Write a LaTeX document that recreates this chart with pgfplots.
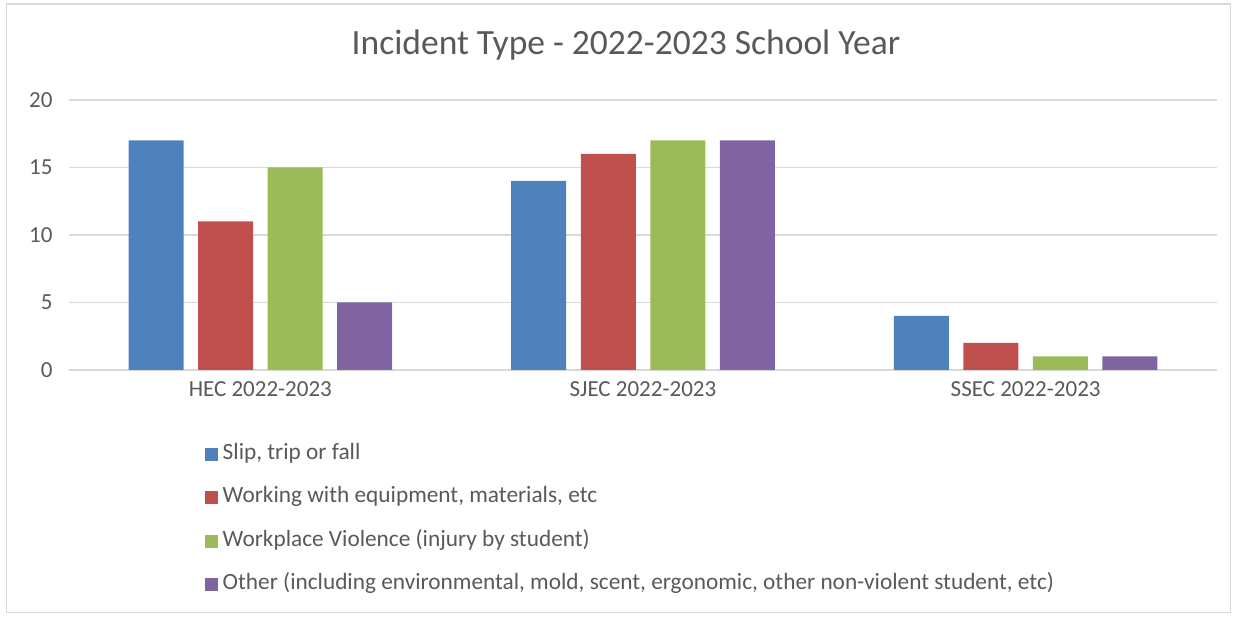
\documentclass[border=0pt]{standalone}
\usepackage{pgfplots}
\pgfplotsset{compat=1.18}
\usepackage{fontspec}
\setmainfont{Carlito}
\definecolor{sblue}{HTML}{4F81BD}
\definecolor{sred}{HTML}{C0504D}
\definecolor{sgreen}{HTML}{9BBB59}
\definecolor{spurple}{HTML}{8064A2}
\definecolor{txt}{HTML}{595959}
\definecolor{grd}{HTML}{D9D9D9}
\begin{document}
\begin{tikzpicture}[x=1bp,y=1bp]
\path[use as bounding box] (0,0) rectangle (1237,617);
\draw[grd, line width=1.2bp] (6.5,4.5) rectangle (1230.5,613);
\node[txt, font=\fontsize{35.5bp}{40bp}\selectfont] at (626,572) {Incident Type - 2022-2023 School Year};
\coordinate (A) at (69,247);
\begin{axis}[
  at={(A)}, anchor=south west,
  scale only axis, width=1148bp, height=270bp,
  xmin=-0.5, xmax=2.5, ymin=0, ymax=20,
  ytick={0,5,10,15,20},
  xtick={0,1,2},
  xticklabels={HEC 2022-2023, SJEC 2022-2023, SSEC 2022-2023},
  major tick length=0pt,
  axis line style={draw=none},
  ymajorgrids, grid style={grd, line width=1.5bp},
  tick label style={txt, font=\fontsize{23bp}{26bp}\selectfont},
  /pgf/number format/assume math mode=true,
  yticklabel style={xshift=-13bp},
  xticklabel style={yshift=-8bp},
  ybar=14.5bp, bar width=55bp,
  legend cell align=left,
  legend style={at={(0.1185,-0.2735)}, anchor=north west, draw=none, fill=none,
    inner sep=0pt, row sep=23.5bp, font=\fontsize{23.3bp}{26bp}\selectfont, text=txt,
    nodes={inner xsep=4.5bp, inner ysep=0pt, text height=15bp, text depth=5bp}},
  legend image code/.code={\fill[#1] (0bp,-6.5bp) rectangle (13bp,6.5bp);},
]
\addplot[fill=sblue, draw=none] coordinates {(0,17) (1,14) (2,4)};
\addplot[fill=sred, draw=none] coordinates {(0,11) (1,16) (2,2)};
\addplot[fill=sgreen, draw=none] coordinates {(0,15) (1,17) (2,1)};
\addplot[fill=spurple, draw=none] coordinates {(0,5) (1,17) (2,1)};
\legend{{Slip, trip or fall}, {Working with equipment, materials, etc}, Workplace Violence (injury by student), {Other (including environmental, mold, scent, ergonomic, other non-violent student, etc)}}
\end{axis}
\end{tikzpicture}
\end{document}
